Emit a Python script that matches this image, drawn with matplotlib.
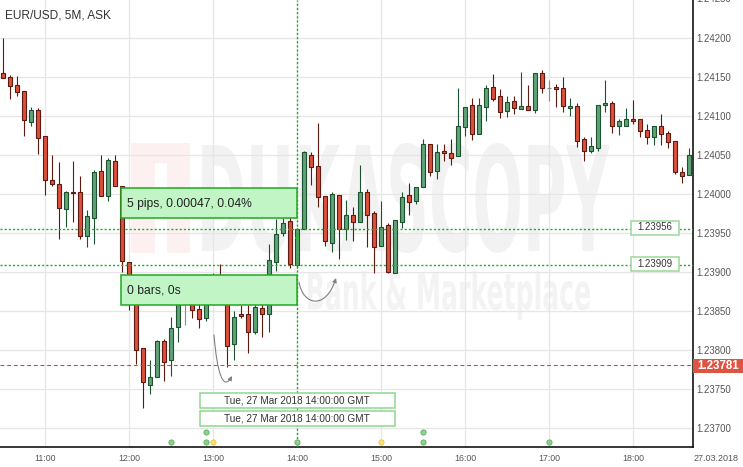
import numpy as np
import pandas as pd
import matplotlib
matplotlib.use("Agg")
import matplotlib.pyplot as plt
from matplotlib.patches import Rectangle, PathPatch, FancyArrowPatch
from matplotlib.textpath import TextPath
from matplotlib.font_manager import FontProperties
from matplotlib.path import Path
from matplotlib.transforms import Affine2D, blended_transform_factory

plt.rcParams['font.family'] = ['Liberation Sans', 'DejaVu Sans']

# EUR/USD 5M ask bars, 27.03.2018 from 10:30 to 18:40 GMT
opens = [1.24155, 1.24151, 1.24140, 1.24133, 1.24093, 1.24108, 1.24075, 1.24018, 1.24013, 1.23981,
         1.24003, 1.24003, 1.23947, 1.23969, 1.24030, 1.23998, 1.24043, 1.24011, 1.23913, 1.23871,
         1.23803, 1.23755, 1.23766, 1.23812, 1.23787, 1.23830, 1.23864, 1.23870, 1.23853, 1.23842,
         1.23867, 1.23880, 1.23865, 1.23808, 1.23847, 1.23846, 1.23823, 1.23854, 1.23846, 1.23913,
         1.23950, 1.23966, 1.23909, 1.23955, 1.24051, 1.24036, 1.23998, 1.23937, 1.23999, 1.23956,
         1.23973, 1.23964, 1.24003, 1.23976, 1.23934, 1.23960, 1.23899, 1.23964, 1.23999, 1.23991,
         1.24009, 1.24064, 1.24030, 1.24056, 1.24053, 1.24049, 1.24086, 1.24114, 1.24077, 1.24112,
         1.24137, 1.24126, 1.24107, 1.24119, 1.24109, 1.24113, 1.24108, 1.24155, 1.24136, 1.24137,
         1.24136, 1.24110, 1.24113, 1.24071, 1.24056, 1.24059, 1.24115, 1.24117, 1.24088, 1.24088,
         1.24096, 1.24097, 1.24083, 1.24074, 1.24087, 1.24078, 1.24068, 1.24029, 1.24025]
highs = [1.24201, 1.24153, 1.24152, 1.24133, 1.24112, 1.24110, 1.24075, 1.24050, 1.24041, 1.24004,
         1.24043, 1.24024, 1.23980, 1.24031, 1.24051, 1.24047, 1.24051, 1.24011, 1.23913, 1.23871,
         1.23803, 1.23788, 1.23813, 1.23814, 1.23843, 1.23877, 1.23877, 1.23877, 1.23864, 1.23898,
         1.23899, 1.23911, 1.23865, 1.23850, 1.23858, 1.23858, 1.23858, 1.23864, 1.23936, 1.23968,
         1.23969, 1.23971, 1.23957, 1.24056, 1.24054, 1.24092, 1.23998, 1.24003, 1.23999, 1.23993,
         1.23984, 1.24037, 1.24007, 1.23978, 1.23991, 1.23963, 1.23967, 1.24003, 1.24014, 1.24009,
         1.24071, 1.24065, 1.24065, 1.24065, 1.24071, 1.24136, 1.24112, 1.24124, 1.24124, 1.24140,
         1.24154, 1.24135, 1.24126, 1.24126, 1.24157, 1.24140, 1.24155, 1.24159, 1.24147, 1.24141,
         1.24151, 1.24124, 1.24117, 1.24074, 1.24073, 1.24115, 1.24147, 1.24119, 1.24097, 1.24110,
         1.24121, 1.24097, 1.24090, 1.24087, 1.24103, 1.24081, 1.24068, 1.24035, 1.24059]
lows = [1.24149, 1.24122, 1.24126, 1.24075, 1.24087, 1.24052, 1.23999, 1.24011, 1.23943, 1.23958,
        1.23964, 1.23943, 1.23932, 1.23936, 1.23998, 1.23991, 1.24011, 1.23900, 1.23852, 1.23782,
        1.23726, 1.23744, 1.23766, 1.23760, 1.23767, 1.23811, 1.23833, 1.23842, 1.23829, 1.23838,
        1.23860, 1.23860, 1.23778, 1.23788, 1.23842, 1.23797, 1.23821, 1.23817, 1.23824, 1.23902,
        1.23947, 1.23906, 1.23905, 1.23955, 1.24012, 1.23984, 1.23934, 1.23926, 1.23917, 1.23942,
        1.23940, 1.23964, 1.23933, 1.23899, 1.23934, 1.23899, 1.23899, 1.23957, 1.23974, 1.23988,
        1.24009, 1.24024, 1.24019, 1.24043, 1.24038, 1.24049, 1.24075, 1.24069, 1.24077, 1.24094,
        1.24119, 1.24098, 1.24099, 1.24103, 1.24109, 1.24108, 1.24104, 1.24130, 1.24119, 1.24112,
        1.24105, 1.24100, 1.24060, 1.24043, 1.24053, 1.24055, 1.24105, 1.24078, 1.24076, 1.24088,
        1.24090, 1.24074, 1.24065, 1.24063, 1.24063, 1.24059, 1.24026, 1.24015, 1.24025]
closes = [1.24149, 1.24139, 1.24131, 1.24095, 1.24108, 1.24072, 1.24018, 1.24013, 1.23982, 1.24003,
          1.24002, 1.23946, 1.23972, 1.24028, 1.23998, 1.24044, 1.24011, 1.23914, 1.23871, 1.23801,
          1.23759, 1.23766, 1.23812, 1.23785, 1.23829, 1.23867, 1.23864, 1.23852, 1.23840, 1.23867,
          1.23880, 1.23865, 1.23806, 1.23843, 1.23844, 1.23823, 1.23856, 1.23846, 1.23916, 1.23949,
          1.23963, 1.23910, 1.23956, 1.24054, 1.24035, 1.23996, 1.23940, 1.24001, 1.23955, 1.23973,
          1.23965, 1.24003, 1.23974, 1.23933, 1.23958, 1.23901, 1.23967, 1.23996, 1.23990, 1.24009,
          1.24065, 1.24029, 1.24054, 1.24053, 1.24046, 1.24088, 1.24112, 1.24077, 1.24114, 1.24136,
          1.24122, 1.24105, 1.24118, 1.24110, 1.24113, 1.24108, 1.24155, 1.24136, 1.24136, 1.24135,
          1.24113, 1.24113, 1.24068, 1.24055, 1.24062, 1.24115, 1.24117, 1.24087, 1.24094, 1.24096,
          1.24094, 1.24081, 1.24074, 1.24087, 1.24077, 1.24067, 1.24028, 1.24024, 1.24050]

level_high = 1.23956
level_low = 1.23909
current_price = 1.23781
cursor_time = "14:00"
cursor_label = "Tue, 27 Mar 2018 14:00:00 GMT"
measure_text = "5 pips, 0.00047, 0.04%"
bars_text = "0 bars, 0s"

# calendar event dots at the bottom (bar index, row, colour)
event_idx = [24, 29, 29, 30, 42, 54, 60, 60, 78]
event_row = [0, 0, 1, 0, 0, 0, 0, 1, 0]
event_kind = ['g', 'g', 'g', 'y', 'g', 'y', 'g', 'g', 'g']

times = pd.date_range("2018-03-27 10:30", periods=len(opens), freq="5min")
hour_idx = [i for i, t in enumerate(times) if t.minute == 0]
hour_lab = [times[i].strftime("%H:%M") for i in hour_idx]
cur_i = list(times.strftime("%H:%M")).index(cursor_time)

W, H = 743, 467
def fx(x):
    return x / W
def fy(y):
    return 1 - y / H

fig = plt.figure(figsize=(W / 100, H / 100), dpi=100)
ax = fig.add_axes([0, fy(446.7), fx(693.3), 446.7 / H])
tf = fig.transFigure

RED_F, RED_E = '#dc4f3c', '#5e1a10'
GRN_F, GRN_E = '#5fa377', '#1c5230'
GRAY = '#8a8a8a'

# watermark
def fit_text(s, x0, y0, x1, y1, weight, color):
    tp = TextPath((0, 0), s, size=100, prop=FontProperties(family='DejaVu Sans', weight=weight))
    bb = tp.get_extents()
    tr = (Affine2D().translate(-bb.x0, -bb.y0)
          .scale((x1 - x0) / bb.width / W, (y1 - y0) / bb.height / H)
          .translate(fx(x0), fy(y1)) + tf)
    ax.add_patch(PathPatch(tp, transform=tr, fc=color, ec='none', zorder=0.2))

ax.add_patch(Rectangle((fx(131), fy(253)), 59 / W, 110 / H, transform=tf,
                       fc='#fdf0f0', ec='none', zorder=0.2))
ax.add_patch(Rectangle((fx(155), fy(253)), 12 / W, 90 / H, transform=tf,
                       fc='white', ec='none', zorder=0.25))
fit_text("DUKASCOPY", 202, 143, 610, 253, 'bold', '#f2f2f2')
fit_text("Bank & Marketplace", 308, 271, 590, 320, 'bold', '#f3f3f3')

# candles
x = np.arange(len(opens))
o = np.array(opens); hi = np.array(highs); lo = np.array(lows); c = np.array(closes)
fill = np.where(c > o, GRN_F, np.where(c < o, RED_F, GRAY))
edge = np.where(c > o, GRN_E, np.where(c < o, RED_E, GRAY))
ax.vlines(x, np.minimum(lo, np.minimum(o, c)), np.maximum(hi, np.maximum(o, c)),
          colors=edge, lw=0.8, zorder=2)
ax.bar(x, np.maximum(np.abs(c - o), 0.000004), width=0.6, bottom=np.minimum(o, c),
       color=fill, edgecolor=edge, linewidth=0.8, zorder=3)

# levels and cursor
ax.axhline(level_high, color='#22aa22', lw=1.0, ls=(0, (1.5, 1.5)), zorder=4)
ax.axhline(level_low, color='#22aa22', lw=1.0, ls=(0, (1.5, 1.5)), zorder=4)
ax.axhline(current_price, color='#cc4a38', lw=0.8, ls=(0, (3.5, 2.5)), zorder=4)
ax.axvline(cur_i, color='#22aa22', lw=1.0, ls=(0, (1.5, 1.5)), zorder=4)

# event dots
bt = blended_transform_factory(ax.transData, ax.transAxes)
for i, r, k in zip(event_idx, event_row, event_kind):
    fc, ec = ('#8fd08f', '#5aae5a') if k == 'g' else ('#f8e27a', '#e6c840')
    ax.scatter([i], [0.0112 + 0.0224 * r], s=14, fc=fc, ec=ec, lw=0.6,
               transform=bt, zorder=5, clip_on=False)

# axes styling
ax.set_xlim(-0.47, 98.57)
ax.set_ylim(1.236764, 1.242491)
ax.set_xticks(hour_idx)
ax.set_xticklabels(hour_lab)
yt = np.arange(1.2370, 1.24226, 0.0005)
ax.set_yticks(yt)
ax.set_yticklabels([f"{v:.5f}" for v in yt])
ax.yaxis.tick_right()
ax.tick_params(axis='y', length=0, pad=2.5, labelsize=6.9, labelcolor='#555555')
ax.tick_params(axis='x', length=0, pad=5.5, labelsize=6.3, labelcolor='#555555')
ax.grid(True, color='#e6e6e6', lw=0.9)
ax.set_axisbelow(True)
for s in ['top', 'left']:
    ax.spines[s].set_visible(False)
for s in ['bottom', 'right']:
    ax.spines[s].set_color('black')
    ax.spines[s].set_linewidth(1.1)
ax.text(1 + 3.4 / 693.3, 1.2425, "1.24250", transform=blended_transform_factory(ax.transAxes, ax.transData),
        fontsize=6.9, color='#555555', va='center', ha='left', clip_on=False)

# overlays
def box(x0, y0, x1, y1, fc, ec, lw=1.1):
    fig.add_artist(Rectangle((fx(x0), fy(y1)), (x1 - x0) / W, (y1 - y0) / H,
                             transform=tf, fc=fc, ec=ec, lw=lw, zorder=6))

fig.text(fx(5), fy(15.8), "EUR/USD, 5M, ASK", fontsize=8.6, color='#333333', va='center', ha='left')

box(120.7, 188.3, 297.3, 218.3, '#c2f5c5', '#22a822')
fig.text(fx(127), fy(204), measure_text, fontsize=8.7, color='#222222', va='center', zorder=7)
box(120.7, 275.3, 297.3, 305, '#c2f5c5', '#22a822')
fig.text(fx(127), fy(290.5), bars_text, fontsize=8.7, color='#222222', va='center', zorder=7)

for y0 in [393.3, 411.3]:
    box(200, y0, 395, y0 + 15, 'white', '#8fd68f')
    fig.text(fx(297.3), fy(y0 + 7.6), cursor_label, fontsize=7.2, color='#333333',
             ha='center', va='center', zorder=7)

for val, yc in [(level_high, 227.5), (level_low, 264.3)]:
    box(630.7, yc - 7, 678.7, yc + 7, 'white', '#9ad99a')
    fig.text(fx(654.7), fy(yc), f"{val:.5f}", fontsize=6.9, color='#333333',
             ha='center', va='center', zorder=7)

box(693.3, 359, 743, 373, '#dd5542', 'none', lw=0)
fig.text(fx(718), fy(366), f"{current_price:.5f}", fontsize=8.3, color='white',
         fontweight='bold', ha='center', va='center', zorder=7)
fig.text(fx(715.7), fy(458.3), times[0].strftime("%d.%m.%Y"), fontsize=6.5,
         color='#555555', ha='center', va='center')

# curved hint arrows
def curve(pts):
    verts = [(fx(px), fy(py)) for px, py in pts]
    p = Path(verts, [Path.MOVETO, Path.CURVE4, Path.CURVE4, Path.CURVE4])
    fig.add_artist(FancyArrowPatch(path=p, arrowstyle='-|>', mutation_scale=6,
                                   color='#808080', lw=0.8, transform=tf, zorder=6))

curve([(214, 335), (217, 372), (223, 392), (232, 376)])
curve([(299, 282), (303, 306), (326, 310), (336, 278)])

fig.add_artist(FancyArrowPatch((fx(297.3), fy(266)), (fx(297.3), fy(231)), arrowstyle='-|>',
                               mutation_scale=6, color='#33bb33', lw=0.8, transform=tf, zorder=6))

fig.savefig("out.png", dpi=100)
